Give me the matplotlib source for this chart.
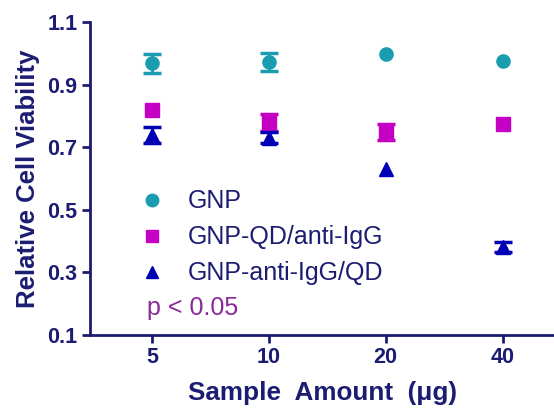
import numpy as np
import matplotlib.pyplot as plt
from matplotlib.lines import Line2D

# Sample amounts (categorical x axis)
amounts = ['5', '10', '20', '40']

# Relative cell viability
gnp = [0.968, 0.972, 0.997, 0.976]
gnp_err = [0.030, 0.030, 0.0, 0.0]

gnp_qd = [0.819, 0.779, 0.749, 0.774]
gnp_qd_err = [0.0, 0.027, 0.025, 0.0]

gnp_anti = [0.740, 0.730, 0.629, 0.381]
gnp_anti_err = [0.026, 0.018, 0.0, 0.015]

labels = ['GNP', 'GNP-QD/anti-IgG', 'GNP-anti-IgG/QD']

navy = '#1c1c72'
c_gnp = '#1a9db0'
c_qd = '#c400c4'
c_anti = '#0000b4'

plt.rcParams['font.family'] = ['Liberation Sans', 'DejaVu Sans']

fig = plt.figure(figsize=(5.54, 4.11), dpi=100)
ax = fig.add_axes([0.1625, 0.185, 0.8375, 0.7615])

x = np.arange(len(amounts))
series = [
    (gnp, gnp_err, c_gnp, 'o', 9.5),
    (gnp_qd, gnp_qd_err, c_qd, 's', 9.5),
    (gnp_anti, gnp_anti_err, c_anti, '^', 10),
]
for vals, err, col, mk, ms in series:
    vals = np.array(vals)
    err = np.array(err)
    has = err > 0
    # error bars only where there is a visible error
    ax.errorbar(x[has], vals[has], yerr=err[has], fmt='none', ecolor=col,
                elinewidth=2, capsize=6.5, capthick=2.5, zorder=2)
    ax.plot(x, vals, ls='none', marker=mk, color=col, ms=ms, zorder=3)

ax.set_ylim(0.1, 1.1)
ax.set_xlim(-0.53, 3.44)
ax.set_yticks([0.1, 0.3, 0.5, 0.7, 0.9, 1.1])
ax.set_xticks(x)
ax.set_xticklabels(amounts)

for side in ['top', 'right']:
    ax.spines[side].set_visible(False)
for side in ['left', 'bottom']:
    ax.spines[side].set_color(navy)
    ax.spines[side].set_linewidth(2)

ax.tick_params(axis='both', colors=navy, width=2, length=6, direction='out',
               labelsize=15.5, pad=3)
for lab in ax.get_xticklabels() + ax.get_yticklabels():
    lab.set_fontweight('bold')

ax.set_ylabel('Relative Cell Viability', fontsize=18.5, fontweight='bold',
              color=navy, labelpad=5)
ax.set_xlabel('Sample  Amount  (\u03bcg)', fontsize=18.8, fontweight='bold',
              color=navy, labelpad=9)

handles = [
    Line2D([], [], ls='none', marker='o', color=c_gnp, ms=9),
    Line2D([], [], ls='none', marker='s', color=c_qd, ms=9),
    Line2D([], [], ls='none', marker='^', color=c_anti, ms=9),
]
leg = ax.legend(handles, labels, loc='center left', bbox_to_anchor=(0.107, 0.312),
                frameon=False, fontsize=18, handlelength=1.0,
                handletextpad=0.94, labelspacing=0.48, borderaxespad=0,
                borderpad=0)
for t in leg.get_texts():
    t.set_color(navy)

ax.text(0.123, 0.086, 'p < 0.05', transform=ax.transAxes, fontsize=18,
        color='#8a2a9a', va='center')

fig.savefig('out.png', dpi=100)
